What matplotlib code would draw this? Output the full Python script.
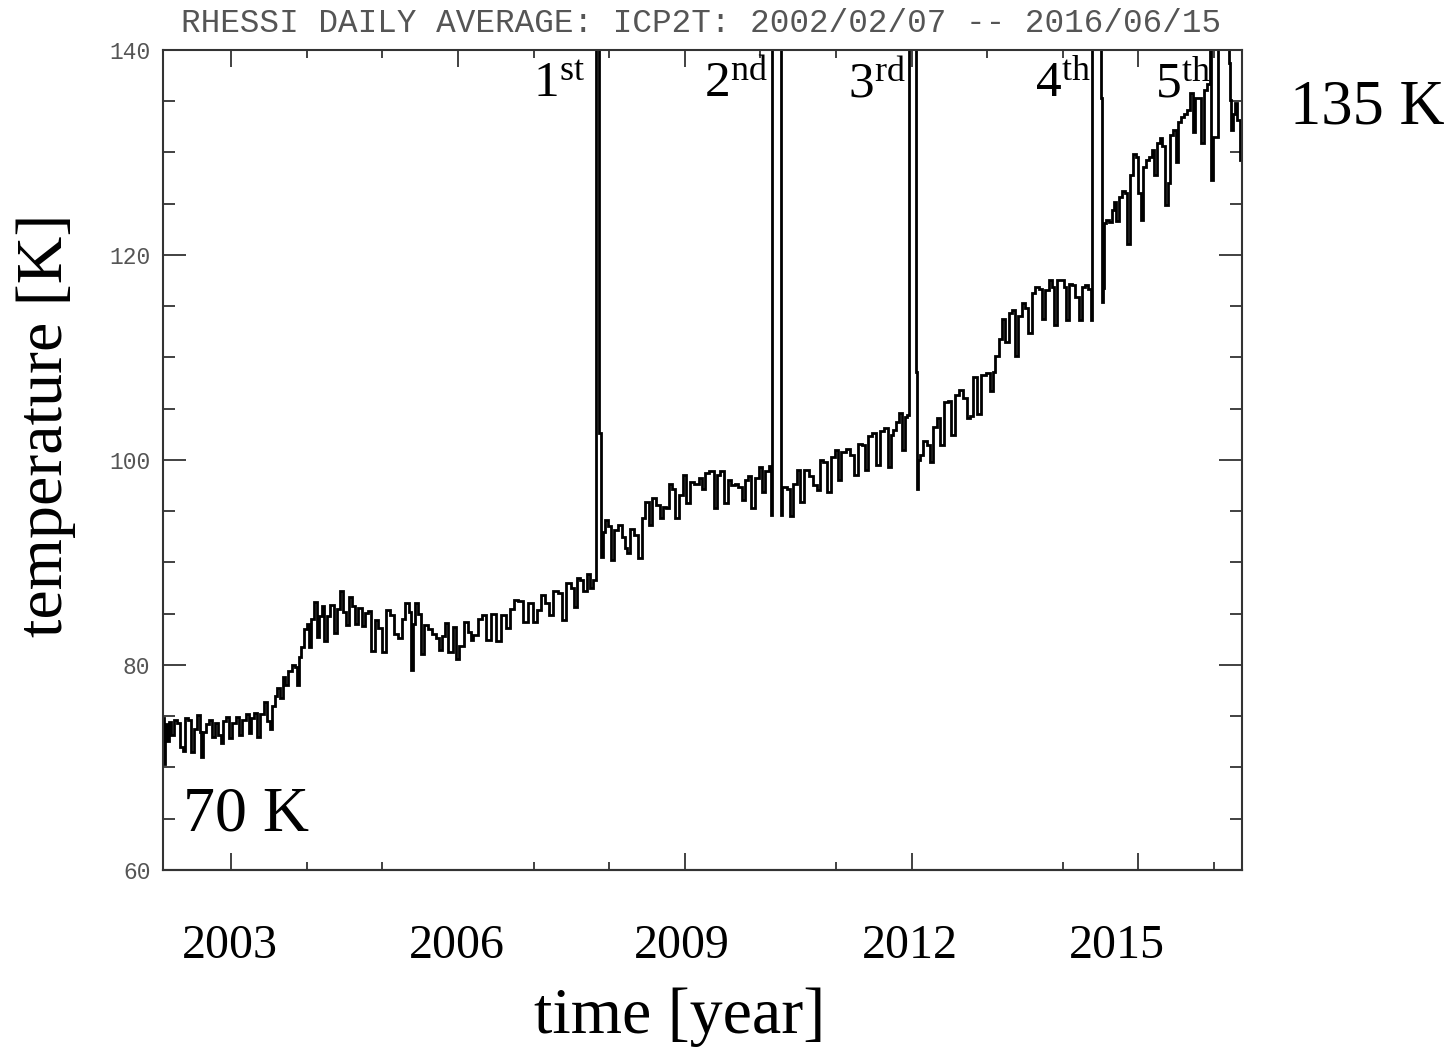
import numpy as np
import matplotlib
matplotlib.use("Agg")
import matplotlib.pyplot as plt
from matplotlib.ticker import FixedLocator, MultipleLocator

plt.rcParams["mathtext.fontset"] = "custom"
plt.rcParams["mathtext.rm"] = "Liberation Serif"
plt.rcParams["mathtext.it"] = "Liberation Serif:italic"

# ICP2T daily average temperature (decimal year, kelvin); 150 K marks anneal periods above the plot range
years = [
    2002.105, 2002.123, 2002.140, 2002.167, 2002.193, 2002.229, 2002.264, 2002.304, 2002.348, 2002.378,
    2002.414, 2002.449, 2002.493, 2002.528, 2002.568, 2002.599, 2002.617, 2002.652, 2002.687, 2002.722,
    2002.767, 2002.811, 2002.855, 2002.881, 2002.916, 2002.961, 2002.996, 2003.040, 2003.084, 2003.128,
    2003.172, 2003.216, 2003.251, 2003.287, 2003.322, 2003.362, 2003.406, 2003.463, 2003.498, 2003.525,
    2003.560, 2003.595, 2003.631, 2003.666, 2003.701, 2003.737, 2003.781, 2003.825, 2003.869, 2003.886,
    2003.913, 2003.948, 2003.983, 2004.019, 2004.045, 2004.080, 2004.116, 2004.151, 2004.186, 2004.222,
    2004.248, 2004.292, 2004.336, 2004.380, 2004.424, 2004.468, 2004.495, 2004.539, 2004.583, 2004.627,
    2004.662, 2004.707, 2004.751, 2004.795, 2004.830, 2004.883, 2004.927, 2004.971,
    2005.024, 2005.082, 2005.126, 2005.183, 2005.236, 2005.280, 2005.333, 2005.368, 2005.390, 2005.421,
    2005.456, 2005.492, 2005.531, 2005.580, 2005.633, 2005.686, 2005.730, 2005.765, 2005.809, 2005.853,
    2005.897, 2005.963, 2005.985, 2006.052, 2006.109, 2006.162, 2006.184, 2006.228, 2006.294, 2006.338,
    2006.404, 2006.471, 2006.537, 2006.603, 2006.669, 2006.713, 2006.779, 2006.823, 2006.889, 2006.955,
    2007.022, 2007.066, 2007.132, 2007.176, 2007.242, 2007.286, 2007.352, 2007.396, 2007.463, 2007.520,
    2007.551, 2007.595, 2007.639, 2007.683, 2007.727, 2007.771, 2007.800,
    2007.840, 2007.880, 2007.895,
    2007.934, 2007.969, 2008.014, 2008.049, 2008.080, 2008.146, 2008.190, 2008.225, 2008.256, 2008.300,
    2008.366, 2008.410, 2008.454, 2008.499, 2008.543, 2008.596, 2008.653, 2008.697, 2008.741, 2008.772,
    2008.816, 2008.851, 2008.904, 2008.939, 2009.006, 2009.036, 2009.094, 2009.160, 2009.213, 2009.248,
    2009.292, 2009.358, 2009.407, 2009.447, 2009.491, 2009.548, 2009.592, 2009.645, 2009.689, 2009.733,
    2009.777, 2009.821, 2009.857, 2009.909, 2009.954, 2009.998, 2010.042, 2010.086, 2010.130, 2010.150,
    2010.160, 2010.272, 2010.282, 2010.295, 2010.329, 2010.373, 2010.403, 2010.461, 2010.505, 2010.549,
    2010.615,
    2010.680, 2010.724, 2010.769, 2010.813, 2010.857, 2010.914, 2010.967, 2011.011, 2011.046, 2011.099,
    2011.165, 2011.209, 2011.267, 2011.320, 2011.364, 2011.395, 2011.452, 2011.505, 2011.549, 2011.606,
    2011.664, 2011.708, 2011.743, 2011.778, 2011.814, 2011.849, 2011.902, 2011.937, 2011.955, 2011.980,
    2012.055, 2012.065, 2012.075, 2012.090, 2012.122, 2012.179, 2012.224, 2012.254, 2012.312, 2012.356,
    2012.400, 2012.457, 2012.502, 2012.546, 2012.598, 2012.664, 2012.709, 2012.753, 2012.797, 2012.841,
    2012.885, 2012.942, 2013.017, 2013.061,
    2013.084, 2013.128, 2013.172, 2013.216, 2013.260, 2013.304, 2013.348, 2013.392, 2013.436, 2013.480,
    2013.525, 2013.560, 2013.613, 2013.657, 2013.701, 2013.736, 2013.789, 2013.833, 2013.877, 2013.899,
    2013.943, 2013.988, 2014.032, 2014.054, 2014.098, 2014.142, 2014.186, 2014.230, 2014.274, 2014.318,
    2014.353, 2014.385, 2014.400, 2014.505, 2014.518, 2014.528, 2014.538, 2014.548, 2014.583, 2014.627,
    2014.663, 2014.693, 2014.724, 2014.760, 2014.804, 2014.839, 2014.870, 2014.914, 2014.945, 2014.980,
    2015.015, 2015.046, 2015.077, 2015.112, 2015.156, 2015.192, 2015.214, 2015.267, 2015.298, 2015.333,
    2015.368, 2015.403, 2015.443, 2015.478, 2015.509, 2015.544, 2015.575, 2015.619, 2015.663, 2015.708,
    2015.730, 2015.774, 2015.818, 2015.840, 2015.884, 2015.928, 2015.955, 2015.970, 2016.016, 2016.040,
    2016.055, 2016.190, 2016.205, 2016.215, 2016.237, 2016.259, 2016.294, 2016.325, 2016.356, 2016.375,
]

temps_k = [
    74.8, 70.3, 74.2, 72.6, 74.4, 73.2, 74.6, 74.3, 72.0, 71.6,
    74.8, 74.6, 71.5, 73.8, 75.1, 73.5, 71.0, 73.5, 74.2, 74.6,
    73.0, 74.3, 73.2, 72.4, 74.5, 74.9, 72.9, 74.3, 74.9, 73.2,
    74.6, 75.2, 73.4, 74.8, 75.3, 73.0, 75.2, 76.4, 74.5, 73.8,
    76.0, 77.0, 77.8, 76.8, 78.8, 78.0, 79.4, 80.0, 79.8, 78.0,
    80.8, 81.8, 83.5, 84.0, 81.8, 84.5, 86.1, 82.7, 84.8, 85.8,
    82.3, 84.8, 85.9, 83.1, 85.5, 87.2, 85.2, 83.9, 86.6, 85.8,
    84.0, 85.6, 83.8, 85.1, 85.3, 81.4, 84.4, 83.6,
    81.3, 85.4, 84.9, 83.0, 82.6, 84.5, 86.0, 85.2, 79.5, 84.0,
    86.0, 85.0, 81.1, 83.9, 83.5, 83.0, 82.6, 81.5, 82.8, 84.1,
    81.3, 83.7, 80.6, 81.9, 84.2, 83.2, 82.4, 82.9, 84.5, 84.9,
    82.4, 85.0, 82.3, 84.9, 83.6, 85.5, 86.3, 86.2, 84.2, 86.0,
    84.2, 85.4, 86.8, 86.0, 84.9, 87.2, 87.0, 84.4, 88.0, 87.5,
    85.7, 88.5, 88.3, 87.2, 88.9, 87.5, 88.3,
    150.0, 102.6, 90.5,
    93.0, 94.1, 93.6, 90.2, 93.2, 93.7, 92.5, 91.4, 90.9, 93.3,
    92.7, 90.4, 94.3, 95.9, 93.7, 96.3, 95.6, 94.3, 95.4, 95.3,
    97.7, 97.2, 94.3, 96.6, 98.5, 95.8, 97.9, 97.7, 98.2, 97.2,
    98.7, 98.9, 95.3, 98.5, 98.9, 95.8, 98.0, 97.6, 97.7, 97.4,
    96.1, 98.0, 98.4, 95.3, 98.2, 99.3, 96.9, 98.9, 99.4, 94.6,
    150.0, 150.0, 94.6, 97.4, 97.4, 97.2, 94.5, 97.7, 99.0, 95.9,
    99.0,
    98.4, 97.6, 97.1, 100.0, 99.8, 96.9, 100.3, 101.0, 98.0, 100.8,
    101.1, 100.5, 98.5, 101.6, 101.5, 99.0, 102.3, 102.6, 99.5, 102.8,
    103.1, 99.3, 102.4, 102.9, 103.7, 104.6, 101.0, 104.2, 104.4, 150.0,
    150.0, 108.6, 97.2, 100.0, 100.5, 101.9, 101.5, 99.8, 103.2, 104.1,
    101.5, 105.7, 105.8, 102.4, 106.3, 106.8, 106.0, 104.1, 104.3, 108.1,
    104.5, 108.3, 108.5, 106.7,
    108.6, 110.1, 111.8, 113.8, 111.5, 114.3, 114.6, 110.1, 114.0, 115.3,
    114.8, 112.4, 116.3, 116.9, 116.7, 113.8, 116.6, 117.6, 116.9, 113.2,
    117.6, 117.6, 116.9, 113.7, 117.2, 117.1, 115.9, 113.7, 116.9, 117.1,
    116.7, 113.7, 150.0, 150.0, 135.3, 115.4, 116.8, 123.1, 123.4, 123.2,
    124.4, 125.2, 123.3, 125.7, 126.2, 126.0, 121.1, 127.8, 129.9, 129.6,
    126.0, 123.4, 128.6, 129.3, 129.6, 130.2, 127.8, 130.9, 131.4, 130.6,
    124.9, 127.0, 131.7, 132.2, 129.1, 133.0, 133.5, 133.8, 134.1, 135.8,
    132.0, 135.3, 135.3, 130.9, 136.1, 136.7, 150.0, 127.3, 131.5, 131.5,
    150.0, 150.0, 138.7, 135.1, 132.2, 133.8, 134.8, 133.2, 129.3, 129.3,
]

year_labels = ["2003", "2006", "2009", "2012", "2015"]
year_label_pos = [2002.99, 2005.99, 2008.965, 2011.98, 2014.72]
major_years = [2003, 2006, 2009, 2012, 2015]
minor_years = [2004, 2005, 2007, 2008, 2010, 2011, 2013, 2014, 2016]
# bottom-edge ticks (some were covered where the axis labels were replaced)
bottom_major_years = [2003, 2009, 2012, 2015]
bottom_minor_years = [2004, 2005, 2007, 2008, 2011, 2014, 2016]

anneal_labels = [r"$\mathrm{1^{st}}$", r"$\mathrm{2^{nd}}$", r"$\mathrm{3^{rd}}$",
                 r"$\mathrm{4^{th}}$", r"$\mathrm{5^{th}}$"]
anneal_label_pos = [2007.683, 2010.090, 2011.915, 2014.362, 2015.950]

title = "RHESSI DAILY AVERAGE: ICP2T: 2002/02/07 -- 2016/06/15"

W, H = 1454, 1048
fig = plt.figure(figsize=(W / 100, H / 100), dpi=100)
ax = fig.add_axes([163 / W, 178 / H, 1079 / W, 820 / H])

ax.plot(years, temps_k, drawstyle="steps-mid", color="black", lw=2.0,
        solid_joinstyle="miter")

ax.set_xlim(2002.10, 2016.37)
ax.set_ylim(60, 140)

frame_col = "#333333"
for s in ax.spines.values():
    s.set_color(frame_col)
    s.set_linewidth(1.5)

# top-edge year ticks on the main axes
ax.xaxis.set_major_locator(FixedLocator(major_years))
ax.xaxis.set_minor_locator(FixedLocator(minor_years))
ax.tick_params(axis="x", which="major", direction="in", length=12, width=1.3,
               top=True, bottom=False, labelbottom=False, color=frame_col)
ax.tick_params(axis="x", which="minor", direction="in", length=6, width=1.3,
               top=True, bottom=False, color=frame_col)

# bottom-edge year ticks
bottom = ax.secondary_xaxis("bottom")
bottom.set_xticks(bottom_major_years)
bottom.set_xticks(bottom_minor_years, minor=True)
bottom.tick_params(axis="x", which="major", direction="in", length=12, width=1.3,
                   labelbottom=False, color=frame_col)
bottom.tick_params(axis="x", which="minor", direction="in", length=6, width=1.3,
                   color=frame_col)
bottom.spines["bottom"].set_color(frame_col)
bottom.spines["bottom"].set_linewidth(1.5)

ax.yaxis.set_major_locator(MultipleLocator(20))
ax.yaxis.set_minor_locator(MultipleLocator(5))
ax.tick_params(axis="y", which="major", direction="in", length=16.5, width=1.3,
               left=True, right=True, labelleft=True, pad=9, color=frame_col,
               labelcolor="#555555", labelsize=16.5)
ax.tick_params(axis="y", which="minor", direction="in", length=8.6, width=1.3,
               left=True, right=True, color=frame_col)
for lbl in ax.get_yticklabels():
    lbl.set_family("Liberation Mono")

serif = "Liberation Serif"

# year labels below the axis
xtrans = ax.get_xaxis_transform()
for lab, xp in zip(year_labels, year_label_pos):
    ax.text(xp, -0.1073, lab, transform=xtrans, ha="center", va="baseline",
            family=serif, fontsize=34.5, clip_on=False)

# anneal markers
for lab, xp in zip(anneal_labels, anneal_label_pos):
    ax.text(xp, 135.4, lab, ha="right", va="baseline", fontsize=37)

ax.text(2002.365, 63.9, "70 K", ha="left", va="baseline", family=serif, fontsize=46)
fig.text(1290 / W, 1 - 124 / H, "135 K", ha="left", va="baseline", family=serif, fontsize=45)

fig.text(680 / W, 1 - 1033 / H, "time [year]", ha="center", va="baseline",
         family=serif, fontsize=47.5)
fig.text(46 / W, 1 - 425 / H, "temperature [K]", ha="center", va="center",
         rotation=90, family=serif, fontsize=47.5)

fig.text(701 / W, 1 - 23 / H, title, ha="center", va="center",
         family="Liberation Mono", fontsize=23.5, color="#555555")

fig.savefig("out.png", dpi=100)
